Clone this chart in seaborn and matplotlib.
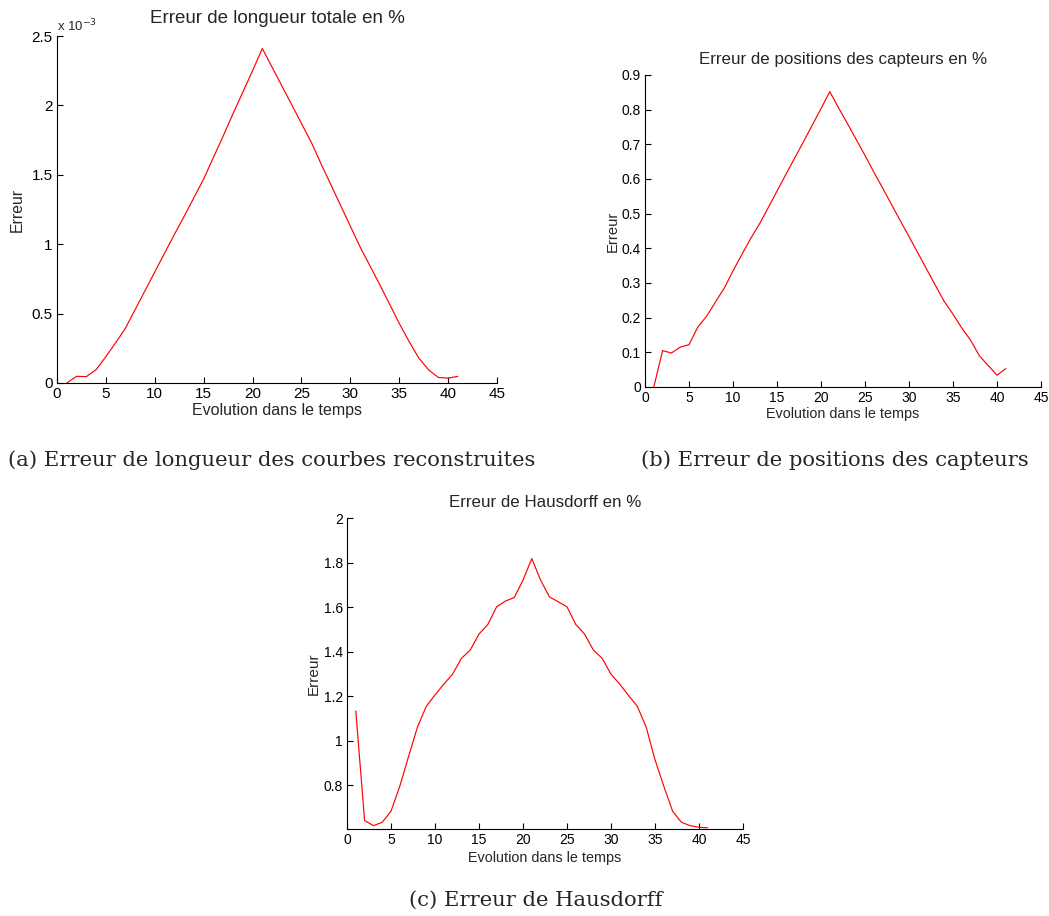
import matplotlib
matplotlib.use("Agg")
import matplotlib.pyplot as plt
import seaborn as sns
import pandas as pd
from matplotlib.ticker import FuncFormatter

# ---- data ----
temps = list(range(1, 42))

# (a) length error, in units of 1e-3 %
err_longueur_e3 = [0.0, 0.048, 0.046, 0.096, 0.19, 0.29, 0.395, 0.53, 0.665, 0.80,
                   0.935, 1.07, 1.20, 1.335, 1.47, 1.625, 1.78, 1.94, 2.095, 2.25, 2.41,
                   2.275, 2.14, 2.005, 1.87, 1.735, 1.58, 1.43, 1.28, 1.13,
                   0.98, 0.845, 0.71, 0.57, 0.43, 0.30, 0.18, 0.095, 0.04, 0.035, 0.048]

# (b) sensor position error (%)
err_positions = [0.0, 0.105, 0.098, 0.115, 0.122, 0.173, 0.204, 0.245, 0.285, 0.335,
                 0.382, 0.428, 0.47, 0.517, 0.565, 0.613, 0.66, 0.707, 0.755, 0.803, 0.852,
                 0.805, 0.76, 0.714, 0.668, 0.62, 0.574, 0.527, 0.48, 0.434,
                 0.387, 0.34, 0.293, 0.247, 0.21, 0.17, 0.135, 0.09, 0.062, 0.034, 0.053]

# (c) Hausdorff error (%)
err_hausdorff = [1.134, 0.642, 0.619, 0.634, 0.684, 0.796, 0.930, 1.061, 1.154, 1.206,
                 1.254, 1.299, 1.370, 1.407, 1.479, 1.522, 1.601, 1.627, 1.643, 1.721, 1.818,
                 1.721, 1.646, 1.624, 1.601, 1.522, 1.479, 1.407, 1.370, 1.299,
                 1.254, 1.203, 1.154, 1.061, 0.915, 0.796, 0.684, 0.634, 0.619, 0.612, 0.609]

titles = ["Erreur de longueur totale en %",
          "Erreur de positions des capteurs en %",
          "Erreur de Hausdorff en %"]
captions = ["(a) Erreur de longueur des courbes reconstruites",
            "(b) Erreur de positions des capteurs",
            "(c) Erreur de Hausdorff"]
xlabel = "Evolution dans le temps"
ylabel = "Erreur"

sns.set_style("white")
plt.rcParams['font.family'] = ['Liberation Sans', 'DejaVu Sans']

W, H = 1049, 916
fig = plt.figure(figsize=(W / 100, H / 100), dpi=100)

def px_axes(l, t, r, b):
    return fig.add_axes([l / W, 1 - b / H, (r - l) / W, (b - t) / H])

ax_a = px_axes(57, 36, 497, 383)
ax_b = px_axes(645, 75, 1041, 387)
ax_c = px_axes(347, 518, 743, 829)

df_a = pd.DataFrame({"t": temps, "v": [v * 1e-3 for v in err_longueur_e3]})
df_b = pd.DataFrame({"t": temps, "v": err_positions})
df_c = pd.DataFrame({"t": temps, "v": err_hausdorff})

def style(ax, fs_tick, fs_xlab, fs_ylab, fs_title, title, xpad, ypad, tpad):
    for s in ["top", "right"]:
        ax.spines[s].set_visible(False)
    for s in ["left", "bottom"]:
        ax.spines[s].set_color("black")
        ax.spines[s].set_linewidth(0.8)
    ax.tick_params(direction="in", length=4, width=0.8, colors="black",
                   labelsize=fs_tick, left=True, bottom=True, pad=3)
    ax.set_xlim(0, 45)
    ax.set_xticks(range(0, 46, 5))
    ax.set_xlabel(xlabel, fontsize=fs_xlab, labelpad=xpad)
    ax.set_ylabel(ylabel, fontsize=fs_ylab, labelpad=ypad)
    ax.set_title(title, fontsize=fs_title, pad=tpad)
    ax.grid(False)

sns.lineplot(data=df_a, x="t", y="v", ax=ax_a, color="red", linewidth=0.85)
ax_a.set_ylim(0, 2.5e-3)
ax_a.set_yticks([i * 0.5e-3 for i in range(6)])
ax_a.yaxis.set_major_formatter(FuncFormatter(lambda v, p: f"{v * 1e3:g}"))
style(ax_a, 11, 11.5, 11.3, 13.5, titles[0], 1.5, 5, 9.5)
ax_a.text(0.0, 1.005, "x 10$^{-3}$", transform=ax_a.transAxes, fontsize=9.5,
          ha="left", va="bottom")

sns.lineplot(data=df_b, x="t", y="v", ax=ax_b, color="red", linewidth=0.85)
ax_b.set_ylim(0, 0.9)
ax_b.set_yticks([i / 10 for i in range(10)])
ax_b.yaxis.set_major_formatter(FuncFormatter(lambda v, p: f"{v:g}"))
style(ax_b, 10, 10.4, 10.6, 12.2, titles[1], 1, 1, 8)

sns.lineplot(data=df_c, x="t", y="v", ax=ax_c, color="red", linewidth=0.85)
ax_c.set_ylim(0.604, 2.0)
ax_c.set_yticks([0.8, 1.0, 1.2, 1.4, 1.6, 1.8, 2.0])
ax_c.yaxis.set_major_formatter(FuncFormatter(lambda v, p: f"{v:g}"))
style(ax_c, 10, 10.4, 11, 12.2, titles[2], 2.5, 2, 8)

cap_font = dict(family=["DejaVu Serif"], fontsize=15.2, va="center")
fig.text(8 / W, 1 - 460 / H, captions[0], ha="left", **cap_font)
fig.text(1029 / W, 1 - 460 / H, captions[1], ha="right", **cap_font)
fig.text(536 / W, 1 - 900 / H, captions[2], ha="center", **cap_font)

fig.savefig("out.png", dpi=100)
